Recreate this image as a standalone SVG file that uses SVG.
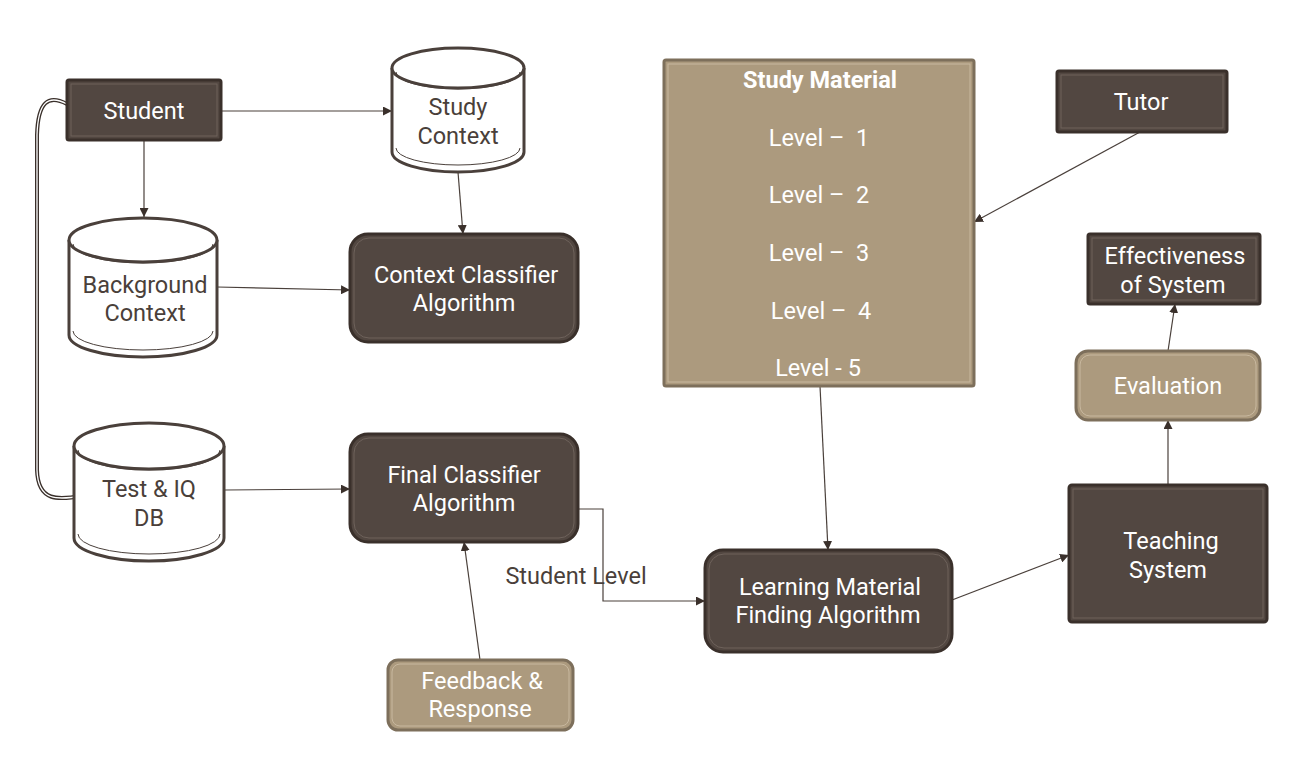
<svg xmlns="http://www.w3.org/2000/svg" width="1316" height="772" viewBox="0 0 1316 772">
<defs>
<style>
.dark{fill:#524741;stroke:#3a302b;stroke-width:3}
.darkin{fill:none;stroke:#6e625b;stroke-width:1}
.tan{fill:#ac9a7e;stroke:#7d6f5b;stroke-width:3}
.tanin{fill:none;stroke:#c8b89f;stroke-width:1}
.cyl{fill:#fff;stroke:#4a403b;stroke-width:3}
.cylin{fill:none;stroke:#4a403b;stroke-width:1}
.wt{font-family:Roboto,"Noto Sans",sans-serif;font-size:23.5px;fill:#fff;text-anchor:middle}
.dt{font-family:Roboto,"Noto Sans",sans-serif;font-size:23.5px;fill:#4a3f3a;text-anchor:middle}
.pre{white-space:pre}
.conn{fill:none;stroke:#4a403b;stroke-width:1.2}
</style>
<marker id="ah" viewBox="0 0 10 10" refX="10" refY="5" markerWidth="9" markerHeight="9" markerUnits="userSpaceOnUse" orient="auto">
<path d="M0,0 L10,5 L0,10 z" fill="#3a302b"/>
</marker>
</defs>

<g id="connectors">
<line class="conn" x1="221" y1="111" x2="392" y2="111" marker-end="url(#ah)"/>
<line class="conn" x1="144" y1="140" x2="144" y2="217" marker-end="url(#ah)"/>
<line class="conn" x1="458" y1="172" x2="463" y2="234" marker-end="url(#ah)"/>
<line class="conn" x1="217" y1="287" x2="350" y2="290" marker-end="url(#ah)"/>
<line class="conn" x1="225" y1="490" x2="350" y2="489" marker-end="url(#ah)"/>
<line class="conn" x1="480" y1="660" x2="464" y2="542" marker-end="url(#ah)"/>
<polyline class="conn" points="578,509 603,509 603,601 705,601" marker-end="url(#ah)"/>
<line class="conn" x1="820" y1="386" x2="828" y2="550" marker-end="url(#ah)"/>
<line class="conn" x1="1140" y1="132" x2="974" y2="222" marker-end="url(#ah)"/>
<line class="conn" x1="952" y1="600" x2="1069" y2="555" marker-end="url(#ah)"/>
<line class="conn" x1="1168" y1="485" x2="1168" y2="420" marker-end="url(#ah)"/>
<line class="conn" x1="1168" y1="351" x2="1175" y2="304" marker-end="url(#ah)"/>
<path d="M67,104 C48,94 38,102 37,135 L37,470 C38,502 58,500 82,496" fill="none" stroke="#3a302b" stroke-width="4"/>
<path d="M67,104 C48,94 38,102 37,135 L37,470 C38,502 58,500 82,496" fill="none" stroke="#fff" stroke-width="1.3"/>
<circle cx="83" cy="496" r="2.5" fill="#fff" stroke="#3a302b" stroke-width="1"/>
<text class="dt" x="576" y="584">Student Level</text>
</g>

<g id="student">
<rect class="dark" x="67" y="80" width="154" height="60" rx="2"/>
<rect class="darkin" x="71" y="84" width="146" height="52"/>
<text class="wt" x="144" y="119">Student</text>
</g>

<g id="study-context">
<path class="cyl" d="M392,68 L392,152 A66,20 0 0 0 524,152 L524,68 A66,20 0 0 0 392,68 Z"/>
<path class="cyl" d="M392,68 A66,20 0 0 0 524,68"/>
<path class="cylin" d="M396,72 A62,17 0 0 0 520,72 M396,148 A62,17 0 0 0 520,148"/>
<text class="dt" x="458" y="115">Study</text>
<text class="dt" x="458" y="144">Context</text>
</g>

<g id="background-context">
<path class="cyl" d="M69,240 L69,335 A74,22 0 0 0 217,335 L217,240 A74,22 0 0 0 69,240 Z"/>
<path class="cyl" d="M69,240 A74,22 0 0 0 217,240"/>
<path class="cylin" d="M73,244 A70,19 0 0 0 213,244 M73,331 A70,19 0 0 0 213,331"/>
<text class="dt" x="145" y="293">Background</text>
<text class="dt" x="145" y="321">Context</text>
</g>

<g id="test-iq-db">
<path class="cyl" d="M74,446 L74,538 A75,23 0 0 0 224,538 L224,446 A75,23 0 0 0 74,446 Z"/>
<path class="cyl" d="M74,446 A75,23 0 0 0 224,446"/>
<path class="cylin" d="M78,450 A71,20 0 0 0 220,450 M78,534 A71,20 0 0 0 220,534"/>
<text class="dt" x="149" y="497">Test &amp; IQ</text>
<text class="dt" x="149" y="526">DB</text>
</g>

<g id="context-classifier">
<rect class="dark" x="350" y="234" width="228" height="108" rx="18"/>
<rect class="darkin" x="354" y="238" width="220" height="100" rx="15"/>
<text class="wt" x="466" y="283">Context Classifier</text>
<text class="wt" x="464" y="311">Algorithm</text>
</g>

<g id="final-classifier">
<rect class="dark" x="350" y="434" width="228" height="108" rx="18"/>
<rect class="darkin" x="354" y="438" width="220" height="100" rx="15"/>
<text class="wt" x="464" y="483">Final Classifier</text>
<text class="wt" x="464" y="511">Algorithm</text>
</g>

<g id="feedback">
<rect class="tan" x="388" y="660" width="185" height="70" rx="10"/>
<rect class="tanin" x="392" y="664" width="177" height="62" rx="8"/>
<text class="wt" x="482" y="689">Feedback &amp;</text>
<text class="wt" x="480" y="717">Response</text>
</g>

<g id="study-material">
<rect class="tan" x="664" y="60" width="310" height="326" rx="2"/>
<rect class="tanin" x="668" y="64" width="302" height="318"/>
<text class="wt" x="820" y="88" font-weight="bold" font-size="22">Study Material</text>
<text class="wt pre" x="819" y="146">Level –  1</text>
<text class="wt pre" x="819" y="203">Level –  2</text>
<text class="wt pre" x="819" y="261">Level –  3</text>
<text class="wt pre" x="821" y="319">Level –  4</text>
<text class="wt" x="818" y="376">Level - 5</text>
</g>

<g id="tutor">
<rect class="dark" x="1057" y="71" width="170" height="61" rx="2"/>
<rect class="darkin" x="1061" y="75" width="162" height="53"/>
<text class="wt" x="1141" y="110">Tutor</text>
</g>

<g id="effectiveness">
<rect class="dark" x="1088" y="234" width="172" height="70" rx="2"/>
<rect class="darkin" x="1092" y="238" width="164" height="62"/>
<text class="wt" x="1175" y="264">Effectiveness</text>
<text class="wt" x="1173" y="293">of System</text>
</g>

<g id="evaluation">
<rect class="tan" x="1076" y="351" width="184" height="69" rx="12"/>
<rect class="tanin" x="1080" y="355" width="176" height="61" rx="10"/>
<text class="wt" x="1168" y="394">Evaluation</text>
</g>

<g id="teaching-system">
<rect class="dark" x="1069" y="485" width="198" height="137" rx="3"/>
<rect class="darkin" x="1073" y="489" width="190" height="129"/>
<text class="wt" x="1171" y="549">Teaching</text>
<text class="wt" x="1168" y="578">System</text>
</g>

<g id="learning-material">
<rect class="dark" x="705" y="550" width="247" height="102" rx="18"/>
<rect class="darkin" x="709" y="554" width="239" height="94" rx="15"/>
<text class="wt" x="830" y="595">Learning Material</text>
<text class="wt" x="828" y="623">Finding Algorithm</text>
</g>
</svg>
